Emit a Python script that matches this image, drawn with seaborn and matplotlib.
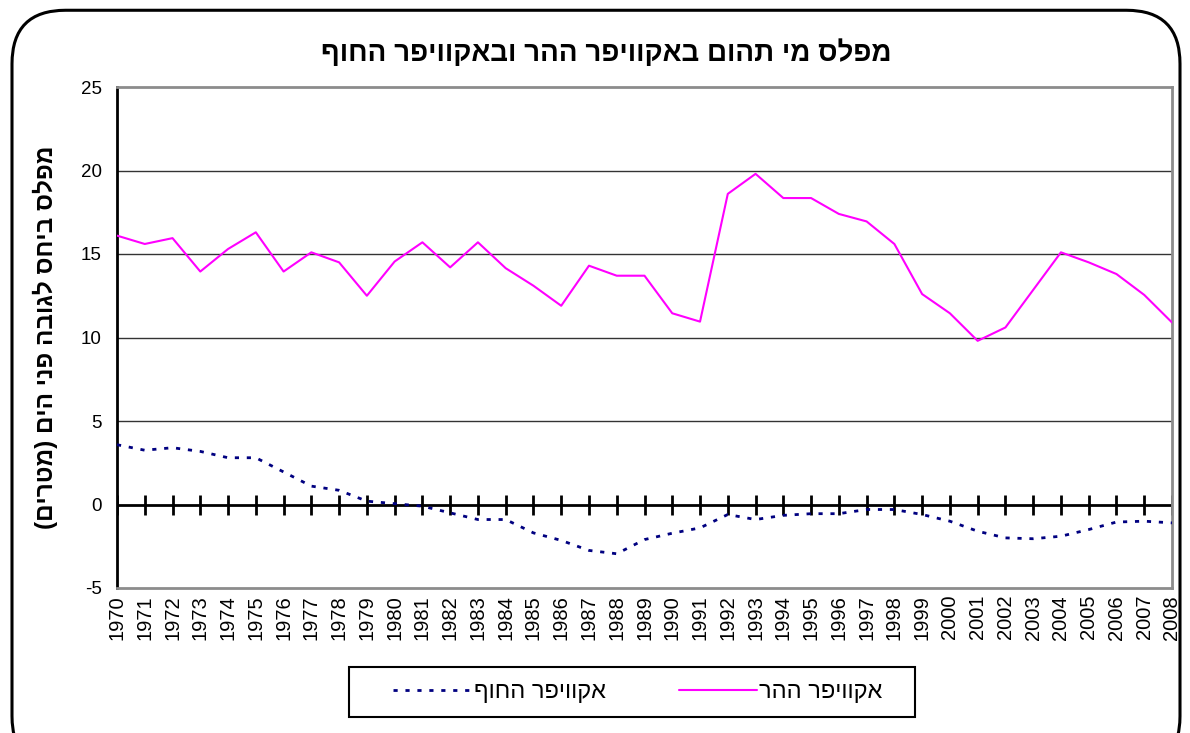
import numpy as np
import pandas as pd
import matplotlib
matplotlib.use("Agg")
import matplotlib.pyplot as plt
import seaborn as sns
from matplotlib.patches import FancyBboxPatch, Rectangle

# ── данные ──
years = list(range(1970, 2009))

mountain = [16.1, 15.6, 15.95, 13.95, 15.3, 16.3, 13.95, 15.1, 14.5, 12.5,
            14.55, 15.7, 14.2, 15.7, 14.15, 13.1, 11.9, 14.3, 13.7, 13.7,
            11.45, 10.95, 18.6, 19.8, 18.35, 18.35, 17.4, 16.95, 15.6, 12.6,
            11.45, 9.8, 10.6, 12.85, 15.1, 14.5, 13.8, 12.55, 10.9]

coastal = [3.58, 3.25, 3.4, 3.18, 2.8, 2.8, 1.95, 1.1, 0.85, 0.2,
           0.05, -0.1, -0.5, -0.9, -0.9, -1.7, -2.15, -2.75, -2.95, -2.1,
           -1.72, -1.4, -0.6, -0.9, -0.65, -0.55, -0.55, -0.3, -0.3, -0.6,
           -1.0, -1.6, -2.0, -2.05, -1.9, -1.5, -1.05, -1.0, -1.1]

title_he = "מפלס מי תהום באקוויפר ההר ובאקוויפר החוף"
ylabel_he = "מפלס ביחס לגובה פני הים (מטרים)"
name_mountain = "אקוויפר ההר"
name_coastal = "אקוויפר החוף"
y_ticks = [-5, 0, 5, 10, 15, 20, 25]


def vis(s):
    """Простейший перевод RTL-строки в визуальный порядок."""
    r = s[::-1]
    return r.translate(str.maketrans("()", ")("))


df = pd.DataFrame({"year": years, "mountain": mountain, "coastal": coastal})

sns.set_style("white")
plt.rcParams["font.family"] = ["Liberation Sans", "DejaVu Sans"]
plt.rcParams["text.color"] = "black"
plt.rcParams["xtick.color"] = "black"
plt.rcParams["ytick.color"] = "black"

fig = plt.figure(figsize=(11.9, 7.33), dpi=100)
ax = fig.add_axes([117 / 1190, 1 - 588 / 733, 1055 / 1190, 501 / 733])

# рамка вокруг всей диаграммы
frame = FancyBboxPatch((12 / 1190, -0.05), 1168 / 1190, 1.036,
                       boxstyle="round,pad=0,rounding_size=0.045",
                       transform=fig.transFigure, fill=False,
                       edgecolor="black", linewidth=2.2, zorder=0,
                       mutation_aspect=1190 / 733)
fig.patches.append(frame)

# сетка
for v in y_ticks[2:-1]:
    ax.axhline(v, color="#333333", linewidth=1.0, zorder=1)

# линия нуля с делениями
ax.axhline(0, color="black", linewidth=2.0, zorder=2)
ax.plot(df["year"], np.zeros(len(df)), linestyle="none", marker="|",
        markersize=14, markeredgewidth=2, color="black", zorder=2)

sns.lineplot(data=df, x="year", y="coastal", ax=ax, color="#000080",
             linewidth=2.0, linestyle=(0, (1.5, 2.8)),
             label=vis(name_coastal), zorder=3)
sns.lineplot(data=df, x="year", y="mountain", ax=ax, color="#FF00FF",
             linewidth=1.5, label=vis(name_mountain), zorder=3)

ax.set_xlim(1970, 2008)
ax.set_ylim(-5, 25)
ax.set_yticks(y_ticks)
ax.set_yticklabels([str(v) for v in y_ticks], fontsize=13.5)
ax.set_xticks(years)
ax.set_xticklabels([str(y) for y in years], rotation=90, fontsize=14.5)
ax.tick_params(axis="x", length=0, pad=5)
ax.tick_params(axis="y", length=7, width=2, color="black", direction="out", pad=4)
ax.set_xlabel("")
ax.set_ylabel("")

for side in ["top", "right", "bottom"]:
    ax.spines[side].set_color("#8c8c8c")
    ax.spines[side].set_linewidth(2)
ax.spines["left"].set_color("black")
ax.spines["left"].set_linewidth(2)

fig.text(606 / 1190, 1 - 53 / 733, vis(title_he), ha="center", va="center",
         fontsize=20, fontweight="bold")
fig.text(45 / 1190, 1 - 337 / 733, vis(ylabel_he), ha="center", va="center",
         rotation=90, fontsize=17.5, fontweight="bold")

# легенда: рамка отдельно, содержимое по центру
fig.patches.append(Rectangle((349 / 1190, 1 - 717 / 733), 566 / 1190, 50 / 733,
                             transform=fig.transFigure, fill=False,
                             edgecolor="black", linewidth=1.5))
ax.legend_.remove()
handles, labels = ax.get_legend_handles_labels()
fig.legend(handles, labels, ncol=2, fontsize=17,
           bbox_to_anchor=(638 / 1190, 1 - 692 / 733), loc="center",
           frameon=False, handlelength=3.3, handletextpad=0.1,
           borderpad=0, borderaxespad=0, columnspacing=3.1)

fig.savefig("out.png", dpi=100, facecolor="white")
